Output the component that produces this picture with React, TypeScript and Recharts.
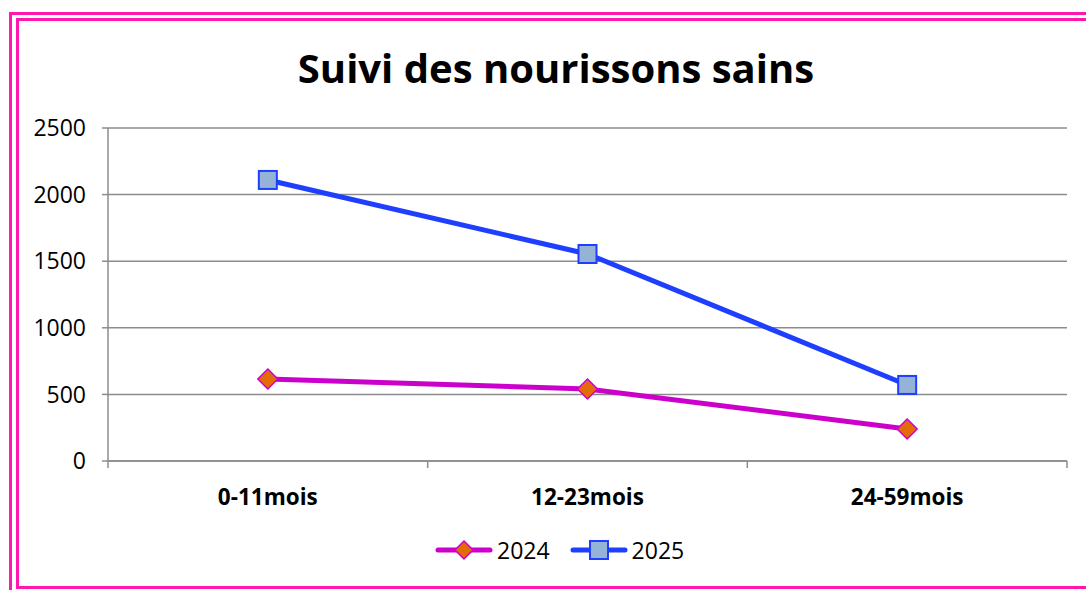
import React from 'react';
import { LineChart, Line, XAxis, YAxis, CartesianGrid, Legend } from 'recharts';

const categories = ['0-11mois', '12-23mois', '24-59mois'];
const values2024 = [616, 541, 240];
const values2025 = [2110, 1554, 571];
const yTicks = [0, 500, 1000, 1500, 2000, 2500];
const seriesNames = ['2024', '2025'];

const data = categories.map((c, i) => ({
  pos: i + 0.5,
  cat: c,
  v2024: values2024[i],
  v2025: values2025[i],
}));
const xTicks = [0, 0.5, 1, 1.5, 2, 2.5, 3];

const FONT = '"Open Sans", "Noto Sans", sans-serif';
const PINK = '#FF17B0';
const GRAY = '#8C8C8C';
const MAG = '#CC00CC';
const BLUE = '#1F3FFF';
const ORANGE = '#E36C09';
const LIGHTBLUE = '#95B3D7';

const XTick = (props: any) => {
  const { x, y, payload } = props;
  const v = payload.value;
  if (Number.isInteger(v)) {
    return <line x1={x} x2={x} y1={y} y2={y + 7} stroke={GRAY} strokeWidth={1.5} />;
  }
  return (
    <text x={x} y={y + 35} textAnchor="middle" dominantBaseline="central" fontFamily={FONT} fontSize={22.5} fontWeight={700} fill="#000">
      {categories[Math.floor(v)]}
    </text>
  );
};

const Diamond = (props: any) => {
  const { cx, cy } = props;
  if (cx == null || cy == null) return null;
  const r = 10;
  return (
    <polygon
      points={`${cx},${cy - r} ${cx + r},${cy} ${cx},${cy + r} ${cx - r},${cy}`}
      fill={ORANGE}
      stroke={MAG}
      strokeWidth={1.5}
    />
  );
};

const Square = (props: any) => {
  const { cx, cy } = props;
  if (cx == null || cy == null) return null;
  const s = 18;
  return <rect x={cx - s / 2} y={cy - s / 2} width={s} height={s} fill={LIGHTBLUE} stroke={BLUE} strokeWidth={2} />;
};

const LegendContent = () => {
  const items = [
    { name: seriesNames[0], color: MAG, marker: 'diamond' },
    { name: seriesNames[1], color: BLUE, marker: 'square' },
  ];
  return (
    <div style={{ display: 'flex', alignItems: 'center', fontFamily: FONT, fontSize: 23, color: '#000' }}>
      {items.map((it) => (
        <div key={it.name} style={{ display: 'flex', alignItems: 'center', marginRight: 20 }}>
          <svg width={58} height={24} style={{ marginRight: 4 }}>
            <line x1={3} x2={55} y1={12} y2={12} stroke={it.color} strokeWidth={5} strokeLinecap="round" />
            {it.marker === 'diamond' ? (
              <polygon points="29,3 38,12 29,21 20,12" fill={ORANGE} stroke={MAG} strokeWidth={1.5} />
            ) : (
              <rect x={20} y={3} width={18} height={18} fill={LIGHTBLUE} stroke={BLUE} strokeWidth={2} />
            )}
          </svg>
          <span>{it.name}</span>
        </div>
      ))}
    </div>
  );
};

export default function App() {
  return (
    <div style={{ position: 'absolute', left: 0, top: 0, width: 1086, height: 590, overflow: 'hidden', background: '#fff' }}>
      <div style={{ position: 'absolute', left: 9, top: 12, width: 1120, height: 620, border: `3px solid ${PINK}`, boxSizing: 'border-box' }} />
      <div style={{ position: 'absolute', left: 16, top: 18, width: 1110, height: 571, border: `3px solid ${PINK}`, boxSizing: 'border-box' }} />
      <div style={{ position: 'absolute', left: 0, top: 44, width: 1112, textAlign: 'center', fontFamily: FONT, fontWeight: 700, fontSize: 40, lineHeight: '48px', color: '#000' }}>
        Suivi des nourissons sains
      </div>
      <div style={{ position: 'absolute', left: 0, top: 0 }}>
        <LineChart width={1086} height={590} data={data} margin={{ top: 128, right: 19, left: 0, bottom: 37 }}>
          <CartesianGrid vertical={false} stroke={GRAY} strokeWidth={1.5} />
          <XAxis
            dataKey="pos"
            type="number"
            domain={[0, 3]}
            ticks={xTicks}
            interval={0}
            tickLine={false}
            tickSize={0}
            tickMargin={0}
            tick={<XTick />}
            axisLine={{ stroke: GRAY, strokeWidth: 1.5 }}
            height={60}
          />
          <YAxis
            domain={[0, 2500]}
            ticks={yTicks}
            interval={0}
            width={108}
            tickSize={6}
            tickMargin={16}
            tickLine={{ stroke: GRAY, strokeWidth: 1.5 }}
            axisLine={{ stroke: GRAY, strokeWidth: 1.5 }}
            tick={{ fontFamily: FONT, fontSize: 23, fill: '#000' }}
          />
          <Legend verticalAlign="bottom" content={<LegendContent />} wrapperStyle={{ left: 435, width: 'auto', bottom: 24 }} />
          <Line type="linear" dataKey="v2024" name="2024" stroke={MAG} strokeWidth={5} dot={<Diamond />} activeDot={false} isAnimationActive={false} />
          <Line type="linear" dataKey="v2025" name="2025" stroke={BLUE} strokeWidth={5} dot={<Square />} activeDot={false} isAnimationActive={false} />
        </LineChart>
      </div>
    </div>
  );
}
